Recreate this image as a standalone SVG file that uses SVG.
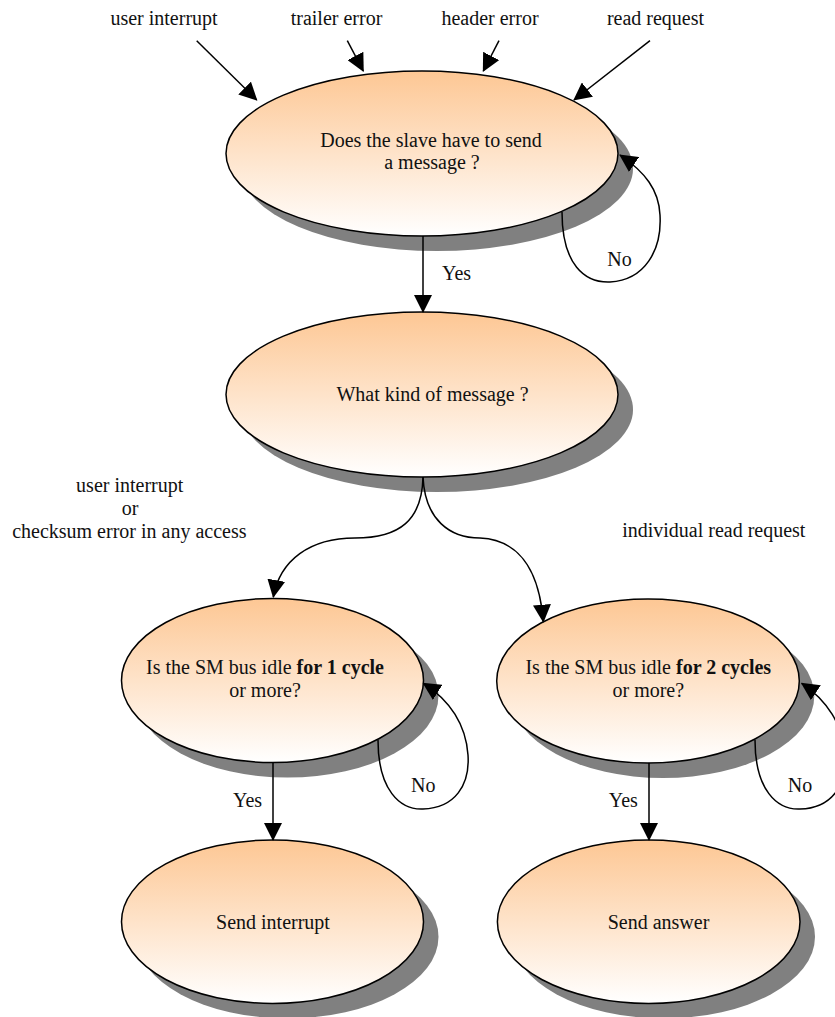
<svg xmlns="http://www.w3.org/2000/svg" width="835" height="1017" viewBox="0 0 835 1017">
  <defs>
    <linearGradient id="peach" x1="0" y1="0" x2="0" y2="1">
      <stop offset="0" stop-color="#FDC794"/>
      <stop offset="1" stop-color="#FFFFFF"/>
    </linearGradient>
    <marker id="arrow" markerUnits="userSpaceOnUse" markerWidth="18" markerHeight="18" viewBox="0 0 18 18" refX="17" refY="9" orient="auto">
      <path d="M0,0 L18,9 L0,18 z" fill="#000"/>
    </marker>
    <style>
      .shadow { fill: #808080; }
      .state { fill: url(#peach); stroke: #000; stroke-width: 1.5; }
      .edge { fill: none; stroke: #000; stroke-width: 1.5; marker-end: url(#arrow); }
      text { font-family: "Liberation Serif", "Times New Roman", serif; font-size: 20px; fill: #111; text-anchor: middle; }
      .b { font-weight: bold; }
    </style>
  </defs>

  <rect width="835" height="1017" fill="#fff"/>

  <!-- states -->
  <g id="n-must-send">
    <ellipse class="shadow" cx="437" cy="168.5" rx="196" ry="82.5"/>
    <ellipse class="state" cx="422" cy="153.5" rx="196" ry="82.5"/>
    <text x="431" y="147">Does the slave have to send</text>
    <text x="432" y="169">a message ?</text>
  </g>

  <g id="n-kind">
    <ellipse class="shadow" cx="437" cy="409.5" rx="196" ry="82.5"/>
    <ellipse class="state" cx="422" cy="394.5" rx="196" ry="82.5"/>
    <text x="432.5" y="400.5">What kind of message ?</text>
  </g>

  <g id="n-idle-1">
    <ellipse class="shadow" cx="287.5" cy="695.5" rx="151" ry="82"/>
    <ellipse class="state" cx="272.5" cy="680.5" rx="151" ry="82"/>
    <text x="265" y="673.5">Is the SM bus idle <tspan class="b">for 1 cycle</tspan></text>
    <text x="265" y="697">or more?</text>
  </g>

  <g id="n-idle-2">
    <ellipse class="shadow" cx="663" cy="696" rx="151.3" ry="82"/>
    <ellipse class="state" cx="648" cy="681" rx="151.3" ry="82"/>
    <text x="648.3" y="673.5">Is the SM bus idle <tspan class="b">for 2 cycles</tspan></text>
    <text x="648.3" y="697">or more?</text>
  </g>

  <g id="n-send-interrupt">
    <ellipse class="shadow" cx="287.5" cy="936.7" rx="151" ry="81.7"/>
    <ellipse class="state" cx="272.5" cy="921.7" rx="151" ry="81.7"/>
    <text x="273" y="928.5">Send interrupt</text>
  </g>

  <g id="n-send-answer">
    <ellipse class="shadow" cx="663.7" cy="936.7" rx="151.3" ry="81.7"/>
    <ellipse class="state" cx="648.7" cy="921.7" rx="151.3" ry="81.7"/>
    <text x="658.5" y="928.5">Send answer</text>
  </g>

  <!-- transitions -->
  <g id="connectors">
    <line class="edge" x1="196.7" y1="40.7" x2="256.7" y2="100"/>
    <line class="edge" x1="347.3" y1="40.7" x2="363.3" y2="71"/>
    <line class="edge" x1="499" y1="40.7" x2="483.3" y2="71"/>
    <line class="edge" x1="650" y1="40.7" x2="574" y2="100"/>

    <path class="edge" d="M562,212 C562,265 585,283 610,282 C645,280 662,250 660,215 C659,190 645,172 620,155"/>
    <line class="edge" x1="423" y1="236" x2="423" y2="312"/>

    <path class="edge" d="M423,477 C422,520 400,538 355,538 C310,538 280,560 273.3,597"/>
    <path class="edge" d="M423,477 C425,520 450,538 480,538 C525,540 540,580 543.3,621.7"/>

    <path class="edge" d="M378,740 C378,790 400,810 423,809 C455,808 470,785 468,755 C466,725 450,700 423.3,683.3"/>
    <path class="edge" d="M755,740 C755,790 777,810 800,809 C832,808 847,785 845,755 C843,725 827,700 801.7,683.3"/>

    <line class="edge" x1="273" y1="763" x2="273" y2="840"/>
    <line class="edge" x1="649" y1="763" x2="649" y2="840"/>
  </g>

  <!-- transition labels -->
  <g id="labels">
    <text x="164" y="25">user interrupt</text>
    <text x="336.5" y="25">trailer error</text>
    <text x="490" y="25">header error</text>
    <text x="655.5" y="25">read request</text>

    <text x="456.5" y="280">Yes</text>
    <text x="619.5" y="266">No</text>

    <text x="129.7" y="491.7">user interrupt</text>
    <text x="130" y="514.5">or</text>
    <text x="129.3" y="538">checksum error in any access</text>
    <text x="713.8" y="536.7">individual read request</text>

    <text x="423.3" y="792">No</text>
    <text x="800" y="792">No</text>
    <text x="247.5" y="807.3">Yes</text>
    <text x="623.3" y="807.3">Yes</text>
  </g>
</svg>
